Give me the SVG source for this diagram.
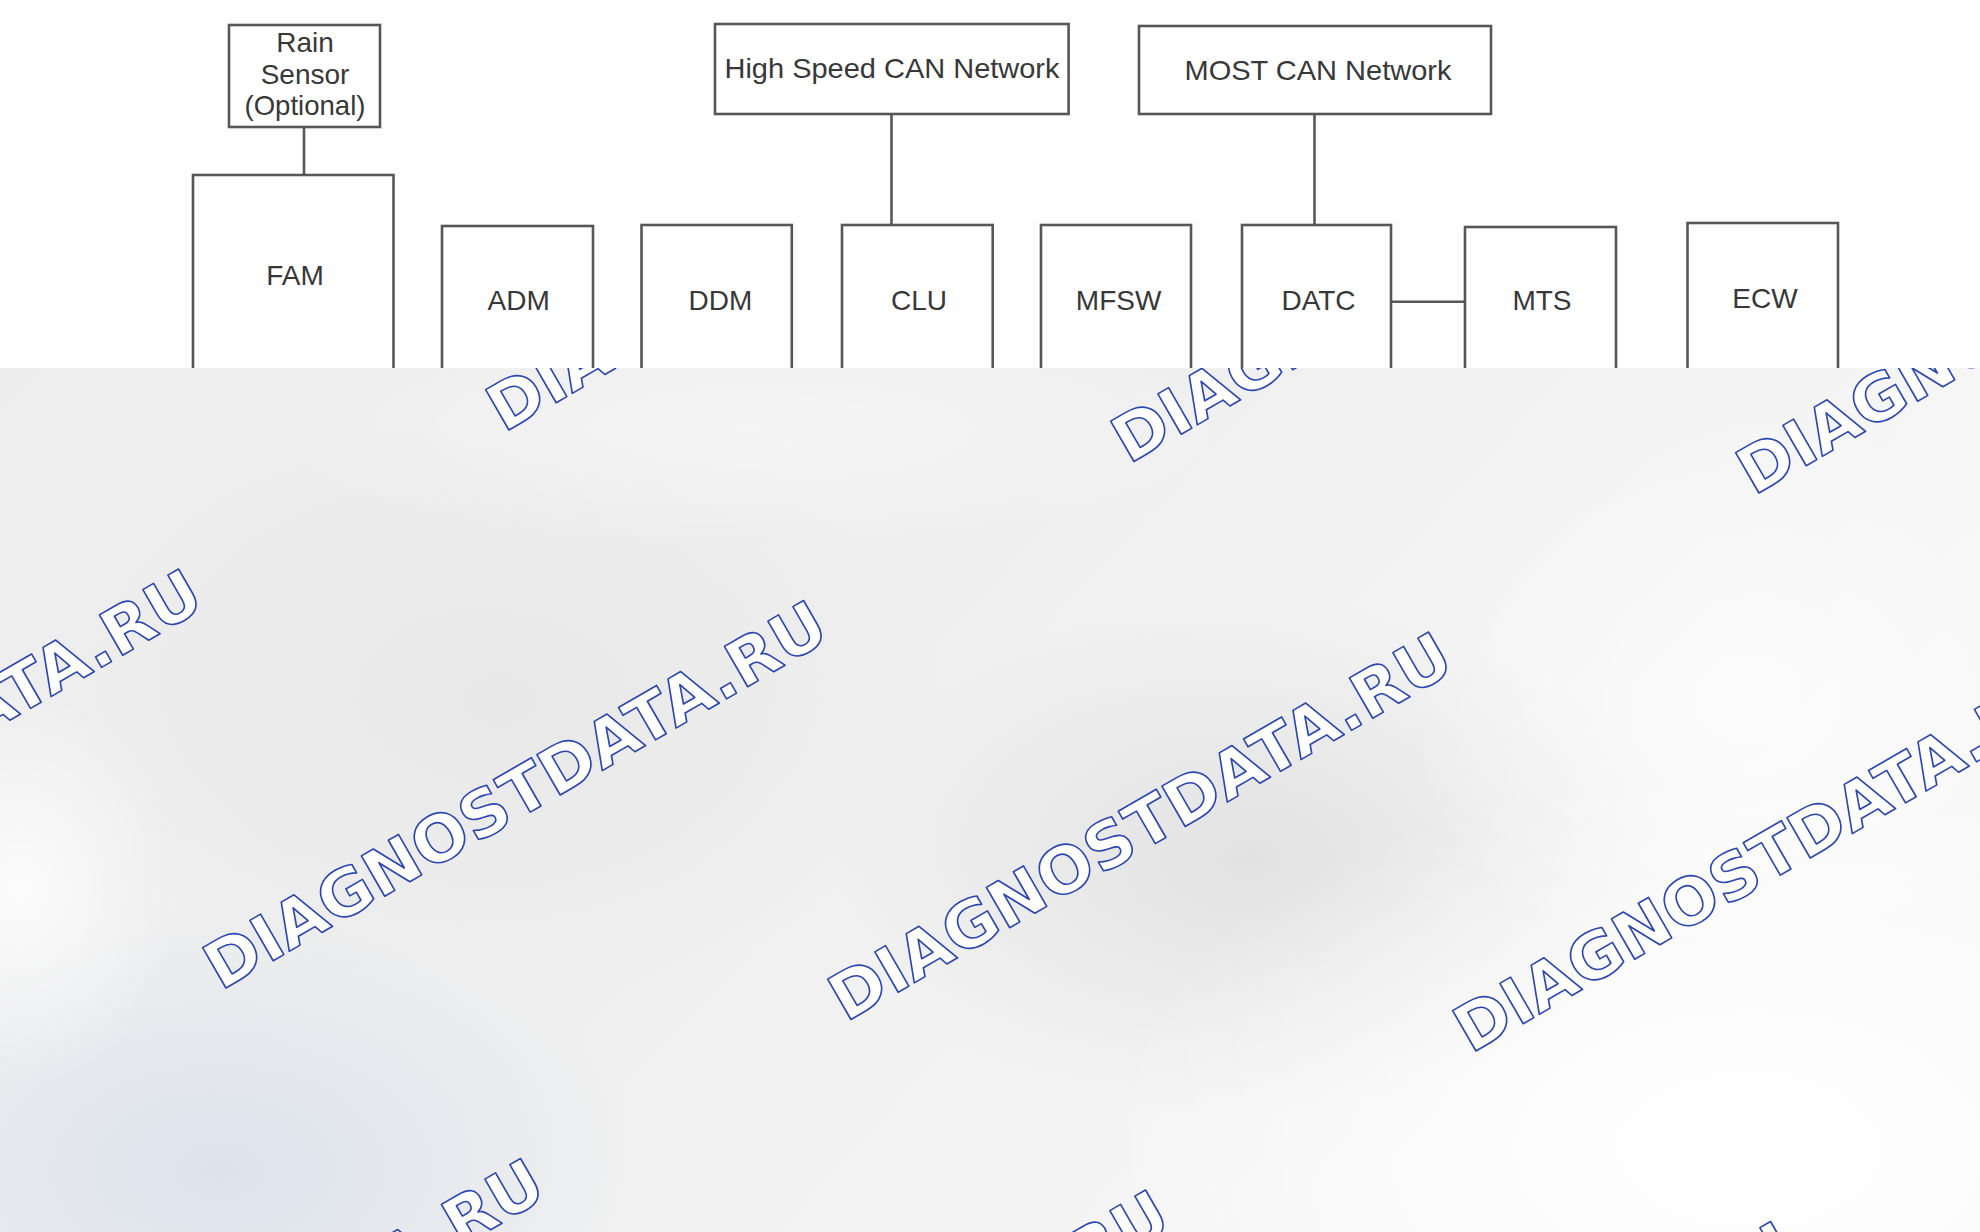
<svg xmlns="http://www.w3.org/2000/svg" width="1980" height="1232" viewBox="0 0 1980 1232">
<style>
.box{fill:#ffffff;stroke:#575757;stroke-width:2.6}
.lbl{font-family:"Liberation Sans",Arial,sans-serif;font-size:28px;fill:#383838;text-anchor:middle}
.wire{stroke:#575757;stroke-width:2.6;fill:none}
.wm{font-family:"DejaVu Sans",Verdana,sans-serif;font-weight:bold;font-size:64px;fill:#ffffff;stroke:#2a46b0;stroke-width:1.6;stroke-linejoin:round}
</style>
<defs>
<clipPath id="bottomClip"><rect x="0" y="368" width="1980" height="864"/></clipPath>
<linearGradient id="bgLin" x1="0" y1="0" x2="1" y2="0.4">
<stop offset="0" stop-color="#ededed"/>
<stop offset="0.5" stop-color="#efefef"/>
<stop offset="1" stop-color="#f8f8f8"/>
</linearGradient>
<radialGradient id="rWhite" cx="0.5" cy="0.5" r="0.5">
<stop offset="0" stop-color="#ffffff" stop-opacity="1"/>
<stop offset="1" stop-color="#ffffff" stop-opacity="0"/>
</radialGradient>
<radialGradient id="rDark" cx="0.5" cy="0.5" r="0.5">
<stop offset="0" stop-color="#e2e2e2" stop-opacity="1"/>
<stop offset="1" stop-color="#e2e2e2" stop-opacity="0"/>
</radialGradient>
<radialGradient id="rBlue" cx="0.5" cy="0.5" r="0.5">
<stop offset="0" stop-color="#dde2ec" stop-opacity="1"/>
<stop offset="1" stop-color="#dde2ec" stop-opacity="0"/>
</radialGradient>
</defs>

<rect x="0" y="0" width="1980" height="1232" fill="#fefefe"/>

<g id="connectors">
<line class="wire" x1="304" y1="127" x2="304" y2="175"/>
<line class="wire" x1="891.5" y1="114" x2="891.5" y2="225"/>
<line class="wire" x1="1314.5" y1="114" x2="1314.5" y2="225"/>
<line class="wire" x1="1391" y1="301.7" x2="1465" y2="301.7"/>
</g>

<g id="rain-sensor">
<rect class="box" x="229" y="25" width="151" height="102"/>
<text class="lbl" x="305" y="52" font-size="26">Rain</text>
<text class="lbl" x="305" y="84" font-size="26">Sensor</text>
<text class="lbl" x="305" y="115" font-size="26" textLength="121" lengthAdjust="spacingAndGlyphs">(Optional)</text>
</g>
<g id="hs-can">
<rect class="box" x="715" y="24" width="353.6" height="90"/>
<text class="lbl" x="892" y="78" textLength="335" lengthAdjust="spacingAndGlyphs">High Speed CAN Network</text>
</g>
<g id="most-can">
<rect class="box" x="1139" y="26" width="352" height="88"/>
<text class="lbl" x="1318" y="80" textLength="267" lengthAdjust="spacingAndGlyphs">MOST CAN Network</text>
</g>
<g id="fam">
<rect class="box" x="193" y="175" width="200.5" height="240"/>
<text class="lbl" x="295" y="285">FAM</text>
</g>
<g id="adm">
<rect class="box" x="442" y="226" width="151" height="200"/>
<text class="lbl" x="518.7" y="310">ADM</text>
</g>
<g id="ddm">
<rect class="box" x="641.5" y="225" width="150.3" height="200"/>
<text class="lbl" x="720.5" y="310">DDM</text>
</g>
<g id="clu">
<rect class="box" x="842" y="225" width="150.7" height="200"/>
<text class="lbl" x="919" y="310">CLU</text>
</g>
<g id="mfsw">
<rect class="box" x="1041" y="225" width="150" height="200"/>
<text class="lbl" x="1118.6" y="310">MFSW</text>
</g>
<g id="datc">
<rect class="box" x="1242" y="225" width="149" height="200"/>
<text class="lbl" x="1318.5" y="310">DATC</text>
</g>
<g id="mts">
<rect class="box" x="1465" y="227" width="151" height="200"/>
<text class="lbl" x="1542" y="310">MTS</text>
</g>
<g id="ecw">
<rect class="box" x="1687.5" y="223" width="150.5" height="200"/>
<text class="lbl" x="1765" y="308">ECW</text>
</g>

<g id="watermark-area" clip-path="url(#bottomClip)">
<rect x="0" y="368" width="1980" height="864" fill="url(#bgLin)"/>
<ellipse cx="1250" cy="860" rx="420" ry="260" fill="url(#rDark)"/>
<ellipse cx="500" cy="700" rx="450" ry="300" fill="url(#rDark)" opacity="0.5"/>
<ellipse cx="220" cy="1170" rx="420" ry="260" fill="url(#rBlue)"/>
<ellipse cx="1750" cy="1150" rx="650" ry="380" fill="url(#rWhite)"/>
<ellipse cx="1750" cy="700" rx="350" ry="300" fill="url(#rWhite)" opacity="0.6"/>
<ellipse cx="20" cy="890" rx="160" ry="200" fill="url(#rWhite)" opacity="0.8"/>
<ellipse cx="750" cy="430" rx="500" ry="120" fill="url(#rWhite)" opacity="0.4"/>
<g id="watermarks">
<text class="wm" transform="translate(-404.2,959.4) rotate(-30)" textLength="706" lengthAdjust="spacingAndGlyphs">DIAGNOSTDATA.RU</text>
<text class="wm" transform="translate(220.8,990.9) rotate(-30)" textLength="706" lengthAdjust="spacingAndGlyphs">DIAGNOSTDATA.RU</text>
<text class="wm" transform="translate(845.8,1022.4) rotate(-30)" textLength="706" lengthAdjust="spacingAndGlyphs">DIAGNOSTDATA.RU</text>
<text class="wm" transform="translate(1470.8,1053.9) rotate(-30)" textLength="706" lengthAdjust="spacingAndGlyphs">DIAGNOSTDATA.RU</text>
<text class="wm" transform="translate(-121.2,401.4) rotate(-30)" textLength="706" lengthAdjust="spacingAndGlyphs">DIAGNOSTDATA.RU</text>
<text class="wm" transform="translate(503.8,432.9) rotate(-30)" textLength="706" lengthAdjust="spacingAndGlyphs">DIAGNOSTDATA.RU</text>
<text class="wm" transform="translate(1128.8,464.4) rotate(-30)" textLength="706" lengthAdjust="spacingAndGlyphs">DIAGNOSTDATA.RU</text>
<text class="wm" transform="translate(1753.8,495.9) rotate(-30)" textLength="706" lengthAdjust="spacingAndGlyphs">DIAGNOSTDATA.RU</text>
<text class="wm" transform="translate(-62.2,1548.9) rotate(-30)" textLength="706" lengthAdjust="spacingAndGlyphs">DIAGNOSTDATA.RU</text>
<text class="wm" transform="translate(562.8,1580.4) rotate(-30)" textLength="706" lengthAdjust="spacingAndGlyphs">DIAGNOSTDATA.RU</text>
<text class="wm" transform="translate(1187.8,1611.9) rotate(-30)" textLength="706" lengthAdjust="spacingAndGlyphs">DIAGNOSTDATA.RU</text>
</g>
</g>
</svg>
